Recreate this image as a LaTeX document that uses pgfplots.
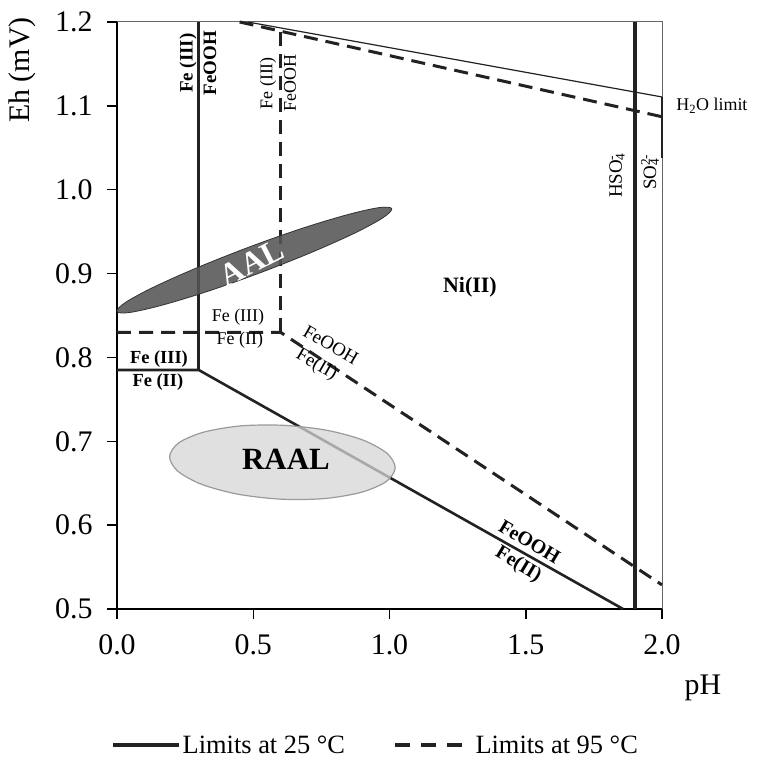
\documentclass[border=0pt]{standalone}
\usepackage{fontspec}
\setmainfont{Liberation Serif}
\usepackage{pgfplots}
\pgfplotsset{compat=1.18}
\definecolor{ln}{HTML}{222222}
\definecolor{aal}{HTML}{555555}
\definecolor{aalb}{HTML}{333333}
\definecolor{raal}{HTML}{D6D6D6}
\definecolor{raalb}{HTML}{9A9A9A}
\newcommand{\fs}[1]{\fontsize{#1}{#1}\selectfont}
\begin{document}
\begin{tikzpicture}
\begin{axis}[
  scale only axis, width=545bp, height=587bp,
  xmin=0, xmax=2, ymin=0.5, ymax=1.2,
  clip=false,
  axis x line*=bottom, axis y line*=left,
  axis line style={-, line width=1.8bp, black},
  xtick={0,0.5,1,1.5,2},
  ytick={0.5,0.6,0.7,0.8,0.9,1.0,1.1,1.2},
  tick align=outside, major tick length=10bp,
  tick style={line width=1.5bp, black},
  ticklabel style={font=\fs{30}},
  xticklabel style={yshift=-12bp},
  yticklabel style={xshift=-11bp},
  /pgf/number format/fixed, /pgf/number format/fixed zerofill,
  /pgf/number format/precision=1, /pgf/number format/assume math mode=true,
  xlabel={pH}, xlabel style={at={(axis description cs:1.075,-0.134)}, anchor=center, font=\fs{30}},
  ylabel={Eh (mV)}, ylabel style={at={(axis description cs:-0.174,0.918)}, anchor=center, font=\fs{30}},
  legend style={at={(axis description cs:-0.011,-0.232)}, anchor=west, draw=none, fill=none,
     inner sep=0pt, font=\fs{26.5}, /tikz/every even column/.append style={column sep=47bp},
     nodes={inner sep=1bp}},
  legend columns=2, legend cell align=left,
  legend image code/.code={\draw[#1] (0bp,0bp) -- (66bp,0bp);},
]
% frame (top and right)
\addplot[forget plot, gray!80!black, line width=1bp] coordinates {(0,1.2) (2,1.2) (2,0.5)};
% 25 C limits
\addplot[forget plot, ln, line width=2.6bp] coordinates {(0,0.785) (0.3,0.785) (1.857,0.5)};
\addplot[forget plot, ln, line width=2.6bp] coordinates {(0.3,0.785) (0.3,1.2)};
\addplot[forget plot, ln, line width=4.2bp] coordinates {(1.9,0.5) (1.9,1.2)};
\addplot[forget plot, ln, line width=1.2bp] coordinates {(0.48,1.2) (2.0,1.1106)};
\addplot[forget plot, ln, line width=1.6bp] coordinates {(2.0,1.1106) (2.0,1.038)};
% 95 C limits
\addplot[forget plot, ln, line width=3bp, dash pattern=on 14bp off 8bp] coordinates {(0,0.83) (0.6,0.83) (2.0,0.5287)};
\addplot[forget plot, ln, line width=3bp, dash pattern=on 14bp off 8bp] coordinates {(0.6,0.83) (0.6,1.189)};
\addplot[forget plot, ln, line width=3bp, dash pattern=on 14bp off 8bp] coordinates {(0.45,1.2) (2.0,1.087)};
% AAL region
\addplot[forget plot, fill=aal, fill opacity=0.88, draw=aalb, line width=0.8bp, smooth cycle, tension=0.55] coordinates {
 (1.0081,0.9774) (0.9628,0.9787) (0.8477,0.9704) (0.6801,0.9540) (0.4857,0.9317)
 (0.2941,0.9070) (0.1343,0.8838) (0.0308,0.8655) (0.0000,0.8548) (0.0446,0.8535)
 (0.1597,0.8618) (0.3273,0.8782) (0.5217,0.9005) (0.7133,0.9252) (0.8731,0.9484)
 (0.9766,0.9667)};
% RAAL region
\addplot[forget plot, fill=raal, fill opacity=0.75, draw=raalb, line width=1.2bp, smooth cycle] coordinates {
 (1.021,0.668) (0.9922,0.6853) (0.9047,0.7012) (0.7720,0.7130) (0.6141,0.7190)
 (0.4552,0.7184) (0.3193,0.7110) (0.2272,0.6983) (0.193,0.682) (0.2218,0.6647)
 (0.3093,0.6488) (0.4420,0.6370) (0.5999,0.6310) (0.7588,0.6316) (0.8947,0.6390)
 (0.9868,0.6517)};
% labels
\node[rotate=90, inner sep=0pt, font=\fs{19}\bfseries] at (axis cs:0.261,1.151) {Fe (III)};
\node[rotate=90, inner sep=0pt, font=\fs{19}\bfseries] at (axis cs:0.341,1.151) {FeOOH};
\node[rotate=90, inner sep=0pt, font=\fs{18}] at (axis cs:0.554,1.127) {Fe (III)};
\node[rotate=90, inner sep=0pt, font=\fs{18}] at (axis cs:0.635,1.127) {FeOOH};
\node[rotate=27, inner sep=0pt, font=\fs{32}\bfseries, text=white] at (axis cs:0.495,0.913) {AAL};
\node[font=\fs{22}\bfseries] at (axis cs:1.295,0.884) {Ni(II)};
\node[inner sep=0pt, font=\fs{18}] at (axis cs:0.444,0.848) {Fe (III)};
\node[inner sep=0pt, font=\fs{18}] at (axis cs:0.451,0.821) {Fe (II)};
\node[inner sep=0pt, font=\fs{18.5}\bfseries] at (axis cs:0.154,0.798) {Fe (III)};
\node[inner sep=0pt, font=\fs{18.5}\bfseries] at (axis cs:0.150,0.771) {Fe (II)};
\node[rotate=-30, inner sep=0pt, font=\fs{19}] at (axis cs:0.785,0.815) {FeOOH};
\node[rotate=-30, inner sep=0pt, font=\fs{19}] at (axis cs:0.732,0.791) {Fe(II)};
\node[font=\fs{31}\bfseries] at (axis cs:0.620,0.678) {RAAL};
\node[rotate=-31, inner sep=0pt, font=\fs{20}\bfseries] at (axis cs:1.514,0.580) {FeOOH};
\node[rotate=-31, inner sep=0pt, font=\fs{20}\bfseries] at (axis cs:1.472,0.553) {Fe(II)};
\node[rotate=90, font=\fs{19}] at (axis cs:1.835,1.020) {HSO\rlap{\textsubscript{4}}\textsuperscript{-}\phantom{\textsubscript{4}}};
\node[rotate=90, font=\fs{19}] at (axis cs:1.956,1.021) {SO\rlap{\textsubscript{4}}\textsuperscript{2-}};
\node[anchor=west, font=\fs{18}] at (axis cs:2.040,1.100) {H\textsubscript{2}O limit};
% legend
\addlegendimage{ln, line width=4.5bp}
\addlegendentry{Limits at 25 °C}
\addlegendimage{legend image code/.code={\draw[ln, line width=4.5bp, dash pattern=on 15bp off 11bp] (0bp,0bp) -- (67bp,0bp); \path (79bp,0bp);}}
\addlegendentry{Limits at 95 °C}
\end{axis}
\pgfresetboundingbox
\path[use as bounding box] ([xshift=-117bp,yshift=-152bp]current axis.south west) rectangle ([xshift=95bp,yshift=22bp]current axis.north east);
\end{tikzpicture}
\end{document}
